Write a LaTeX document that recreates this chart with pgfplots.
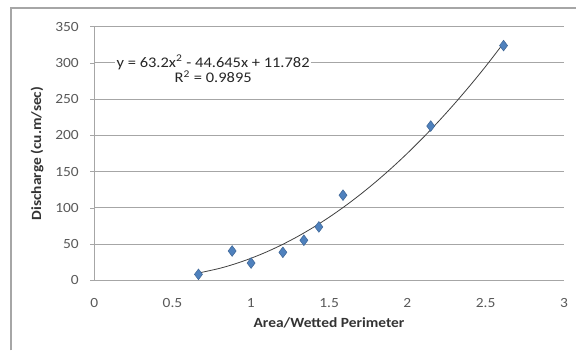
\documentclass[border=0pt]{standalone}
\usepackage{pgfplots}
\pgfplotsset{compat=1.18}
\usepackage{graphicx}
\usepackage{fontspec}
\setmainfont{Carlito}
\usetikzlibrary{calc}
\definecolor{excelblue}{HTML}{4F81BD}
\definecolor{gridgray}{HTML}{A6A6A6}
\definecolor{ticktext}{HTML}{595959}
\begin{document}
\begin{tikzpicture}
\begin{axis}[
  name=ax,
  scale only axis,
  width=351.75pt, height=190pt,
  xmin=0, xmax=3, ymin=0, ymax=350,
  xtick={0,0.5,...,3}, ytick={0,50,...,350},
  axis x line*=bottom, axis y line*=left,
  axis line style={draw=gridgray, -},
  ymajorgrids, grid style={draw=gridgray, line width=0.6pt},
  tick style={draw=gridgray},
  tick align=outside, major tick length=3pt,
  xtick style={draw=none},
  tick label style={font=\fontsize{10.5}{12}\selectfont, text=ticktext},
  /pgf/number format/assume math mode=true,
  xticklabel={\scalebox{1.1}[1]{\pgfmathprintnumber{\tick}}},
  yticklabel={\scalebox{1.1}[1]{\pgfmathprintnumber{\tick}}},
  xticklabel style={yshift=-7pt},
  yticklabel style={xshift=-5pt},
  xlabel={\scalebox{1.1}[1]{\textbf{Area/Wetted Perimeter}}},
  ylabel={\scalebox{1.1}[1]{\textbf{Discharge (cu.m/sec)}}},
  label style={font=\fontsize{10.5}{12}\selectfont, text=black!80},
  xlabel style={yshift=-1pt},
  ylabel style={yshift=2pt},
  clip=false,
]
% trendline y = 63.2x^2 - 44.645x + 11.782
\addplot[black!75, line width=0.6pt, smooth] coordinates {
(0.665,10.04) (0.8,16.51) (0.9,22.79) (1.0,30.34) (1.1,39.14) (1.2,49.22)
(1.3,60.55) (1.4,73.15) (1.5,87.01) (1.6,102.14) (1.7,118.53) (1.8,136.19)
(1.9,155.11) (2.0,175.29) (2.1,196.74) (2.2,219.45) (2.3,243.43) (2.4,268.67)
(2.5,295.17) (2.614,327.1)};
\addplot[only marks, mark=diamond*, mark size=4pt, color=excelblue, mark options={fill=excelblue, draw=excelblue!80!black}] coordinates {
(0.666,8.3) (0.881,40.5) (1.002,23.9) (1.205,38.7) (1.339,55.3)
(1.435,73.7) (1.589,117.5) (2.149,212.8) (2.614,323.8)};
\node[fill=white, inner sep=1pt, text=black!85, font=\fontsize{11}{12}\selectfont] at (axis cs:0.76,300.5) {\scalebox{1.12}[1]{y = 63.2x\textsuperscript{2} - 44.645x + 11.782}};
\node[inner sep=0pt, text=black!85, font=\fontsize{11}{12}\selectfont] at (axis cs:0.76,280.5) {\scalebox{1.12}[1]{R\textsuperscript{2} = 0.9895}};
\end{axis}
\path[use as bounding box] ($(ax.south west)+(-70.5pt,-52.5pt)$) rectangle ($(ax.north east)+(9pt,19.9pt)$);
\draw[gridgray, line width=0.8pt] ($(ax.south west)+(-62.25pt,-52.5pt)$) -- ($(ax.north west)+(-62.25pt,13.9pt)$) -- ($(ax.north east)+(9pt,13.9pt)$);
\end{tikzpicture}
\end{document}
